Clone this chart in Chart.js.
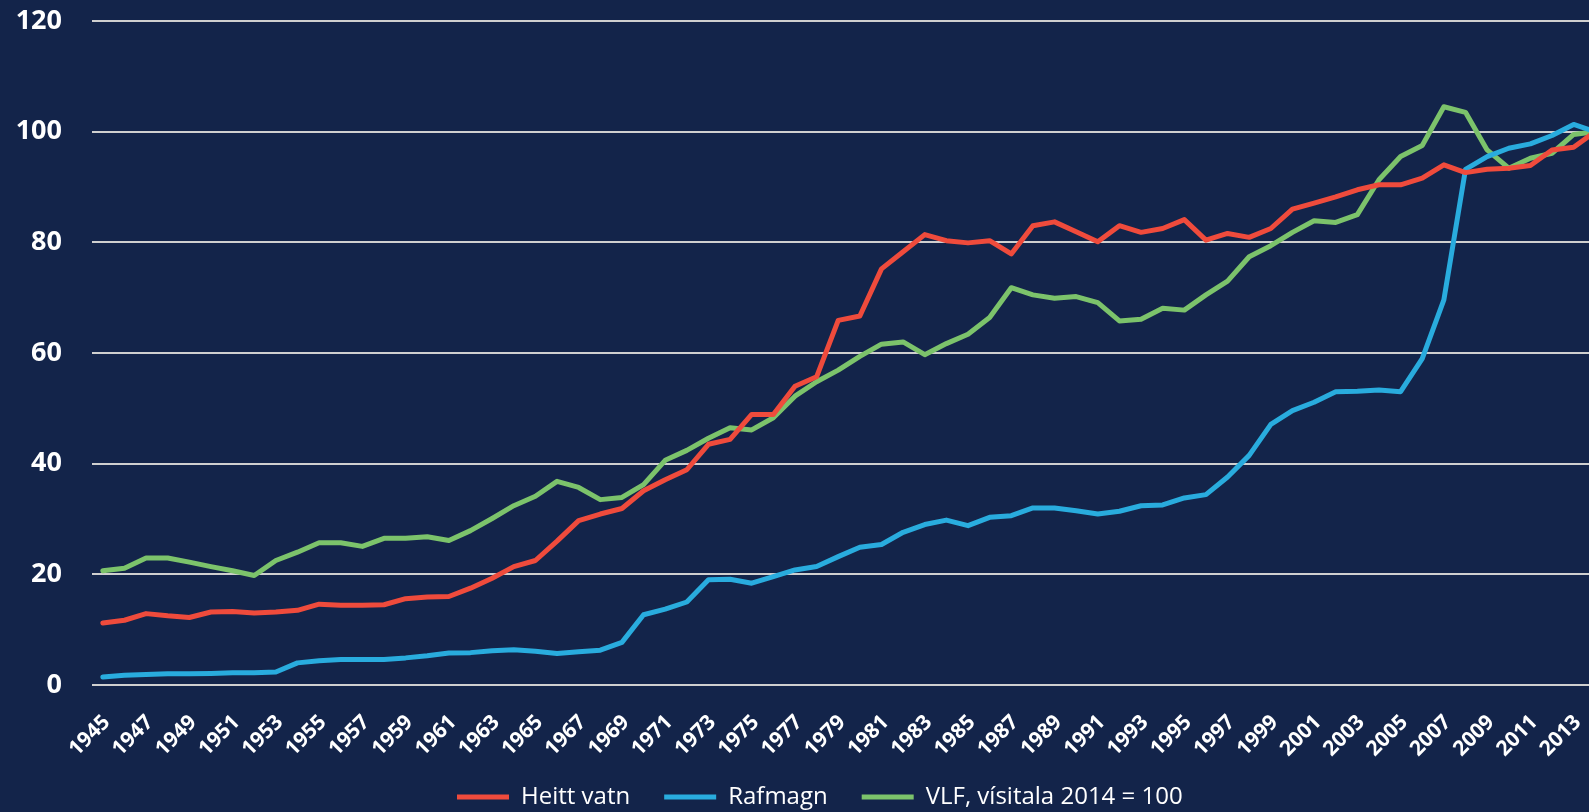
<!DOCTYPE html>
<html>
<head>
<meta charset="utf-8">
<script src="https://cdn.jsdelivr.net/npm/chart.js@4"></script>
<style>
  html, body { margin: 0; padding: 0; background: #13244a; overflow: hidden; }
</style>
</head>
<body>
<canvas id="verdthroun" width="1589" height="812"></canvas>
<script>
// Years on the x axis (the plot is cut off just before 2014 on the right)
const years = [
  1945, 1946, 1947, 1948, 1949, 1950, 1951, 1952, 1953, 1954,
  1955, 1956, 1957, 1958, 1959, 1960, 1961, 1962, 1963, 1964,
  1965, 1966, 1967, 1968, 1969, 1970, 1971, 1972, 1973, 1974,
  1975, 1976, 1977, 1978, 1979, 1980, 1981, 1982, 1983, 1984,
  1985, 1986, 1987, 1988, 1989, 1990, 1991, 1992, 1993, 1994,
  1995, 1996, 1997, 1998, 1999, 2000, 2001, 2002, 2003, 2004,
  2005, 2006, 2007, 2008, 2009, 2010, 2011, 2012, 2013, 2014
];

const heittVatn = [
  11.2, 11.7, 12.9, 12.5, 12.2, 13.2, 13.3, 13.0, 13.2, 13.5,
  14.6, 14.4, 14.4, 14.5, 15.6, 15.9, 16.0, 17.5, 19.3, 21.4,
  22.5, 26.0, 29.7, 30.9, 31.9, 35.1, 37.1, 38.9, 43.5, 44.4,
  48.9, 48.9, 54.0, 55.7, 65.9, 66.7, 75.2, 78.3, 81.4, 80.3,
  79.9, 80.3, 77.9, 83.0, 83.7, 81.9, 80.1, 83.0, 81.8, 82.5,
  84.1, 80.4, 81.6, 80.9, 82.5, 86.0, 87.1, 88.2, 89.5, 90.4,
  90.4, 91.6, 94.0, 92.6, 93.2, 93.4, 93.9, 96.7, 97.2, 100
];

const rafmagn = [
  1.45, 1.75, 1.9, 2.05, 2.05, 2.1, 2.2, 2.2, 2.35, 4.0,
  4.4, 4.6, 4.6, 4.6, 4.9, 5.3, 5.8, 5.85, 6.2, 6.35,
  6.1, 5.7, 6.0, 6.3, 7.7, 12.7, 13.7, 15.0, 19.0, 19.1,
  18.4, 19.6, 20.8, 21.4, 23.2, 24.9, 25.4, 27.6, 29.0, 29.8,
  28.8, 30.3, 30.6, 32.0, 32.0, 31.5, 30.9, 31.4, 32.4, 32.55,
  33.8, 34.4, 37.6, 41.5, 47.1, 49.6, 51.1, 53.0, 53.1, 53.3,
  53.0, 59.0, 69.6, 93.2, 95.5, 97.0, 97.8, 99.3, 101.3, 100
];

const vlf = [
  20.65, 21.1, 22.95, 22.95, 22.2, 21.4, 20.65, 19.8, 22.5, 24.0,
  25.7, 25.7, 25.05, 26.5, 26.5, 26.8, 26.1, 27.9, 30.1, 32.4,
  34.1, 36.8, 35.7, 33.5, 33.9, 36.2, 40.6, 42.4, 44.6, 46.5,
  46.1, 48.3, 52.2, 54.8, 56.9, 59.4, 61.6, 62.0, 59.7, 61.7,
  63.4, 66.4, 71.8, 70.5, 69.9, 70.2, 69.1, 65.8, 66.1, 68.1,
  67.75, 70.5, 73.0, 77.4, 79.4, 81.8, 83.9, 83.6, 85.0, 91.3,
  95.5, 97.5, 104.5, 103.5, 96.7, 93.4, 95.2, 96.1, 99.5, 100
];

const seriesNames = ['Heitt vatn', 'Rafmagn', 'VLF, vísitala 2014 = 100'];
const seriesColors = ['#ef4b3c', '#29acde', '#7cc36b'];
const xTickYears = years.filter((yr) => yr % 2 === 1);

const toPoints = (values) => years.map((yr, i) => ({ x: yr, y: values[i] }));

// Bottom legend sits a bit right of centre in the original, move it there
const legendPlacer = {
  id: 'legendPlacer',
  afterLayout(chart) {
    const lg = chart.legend;
    const pad = lg.options.labels.padding;
    const dx = 457 - (lg.left + pad);
    const dy = 797 - (lg.top + pad + lg.options.labels.font.size / 2);
    lg.left += dx; lg.right += dx;
    lg.top += dy; lg.bottom += dy;
  }
};

const canvasBg = {
  id: 'canvasBg',
  beforeDraw(chart) {
    const ctx = chart.ctx;
    ctx.save();
    ctx.fillStyle = '#13244a';
    ctx.fillRect(0, 0, chart.width, chart.height);
    ctx.restore();
  }
};

new Chart(document.getElementById('verdthroun'), {
  type: 'line',
  data: {
    datasets: [heittVatn, rafmagn, vlf].map((values, i) => ({
      label: seriesNames[i],
      data: toPoints(values),
      borderColor: seriesColors[i],
      backgroundColor: seriesColors[i],
      borderWidth: 5,
      pointRadius: 0,
      tension: 0,
      borderJoinStyle: 'round',
      borderCapStyle: 'round'
    }))
  },
  options: {
    responsive: false,
    animation: false,
    // x axis box is made tall so rotated labels are not clipped; the negative
    // bottom padding keeps the plot area where it was
    layout: { padding: { top: 21, left: 0, right: 0, bottom: -31 } },
    scales: {
      x: {
        type: 'linear',
        min: 1944.5,
        max: 2013.71,
        grid: { display: false, drawTicks: false },
        border: { display: false },
        afterBuildTicks: (axis) => { axis.ticks = xTickYears.map((v) => ({ value: v })); },
        afterFit: (axis) => { axis.height = 90; axis.paddingLeft = 0; axis.paddingRight = 0; },
        ticks: {
          color: '#ffffff',
          autoSkip: false,
          maxRotation: 45,
          minRotation: 45,
          padding: 25,
          labelOffset: 4,
          font: { family: 'Open Sans', size: 21, weight: 'bold' },
          callback: (value) => String(value)
        }
      },
      y: {
        min: 0,
        max: 120,
        grid: { color: '#cfcfcf', lineWidth: 2, drawTicks: false },
        border: { display: false },
        afterFit: (axis) => { axis.width = 92; axis.paddingTop = 0; axis.paddingBottom = 0; },
        ticks: {
          stepSize: 20,
          color: '#ffffff',
          padding: 30,
          font: { family: 'Open Sans', size: 27, weight: 'bold' }
        }
      }
    },
    plugins: {
      tooltip: { enabled: false },
      legend: {
        position: 'bottom',
        align: 'start',
        labels: {
          color: '#ffffff',
          boxWidth: 52,
          boxHeight: 5,
          padding: 34,
          font: { family: 'Open Sans', size: 24 },
          generateLabels: (chart) => Chart.defaults.plugins.legend.labels.generateLabels(chart)
            .map((item) => ({ ...item, fillStyle: item.strokeStyle, lineWidth: 0 }))
        }
      }
    }
  },
  plugins: [canvasBg, legendPlacer]
});
</script>
</body>
</html>
